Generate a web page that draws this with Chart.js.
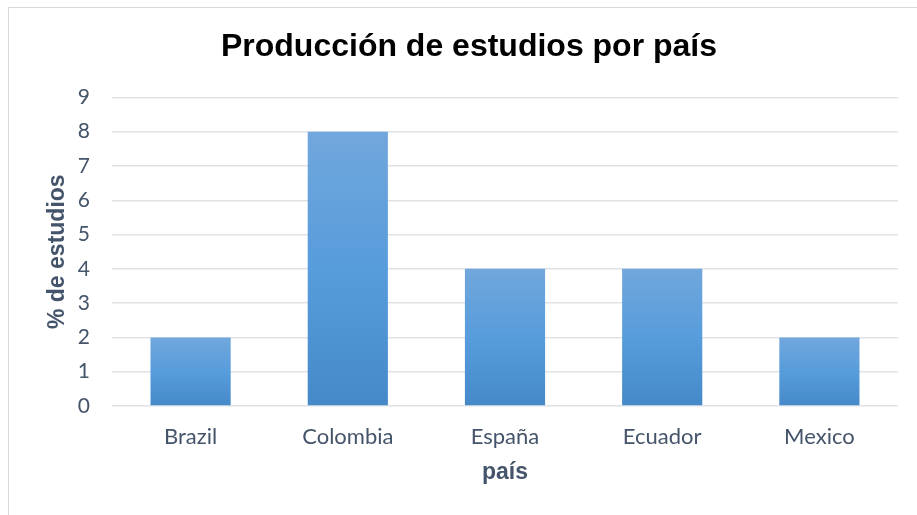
<!DOCTYPE html>
<html>
<head>
<meta charset="utf-8">
<script src="https://cdn.jsdelivr.net/npm/chart.js@4/dist/chart.umd.min.js"></script>
<style>
  html, body { margin: 0; padding: 0; background: #fff; }
  #wrap { position: relative; width: 917px; height: 515px; overflow: hidden; }
  #frame { position: absolute; left: 8px; top: 7px; width: 1000px; height: 600px; border: 1px solid #d9d9d9; }
  canvas { position: absolute; left: 0; top: 0; }
</style>
</head>
<body>
<div id="wrap">
  <div id="frame"></div>
  <canvas id="chart" width="917" height="515"></canvas>
</div>
<script>
const categories = ['Brazil', 'Colombia', 'España', 'Ecuador', 'Mexico'];
const estudios = [2, 8, 4, 4, 2];
const yTicks = [0, 1, 2, 3, 4, 5, 6, 7, 8, 9];

function barGradient(context) {
    const chart = context.chart;
    const y = chart.scales.y;
    if (!chart.chartArea || !y) {
        return '#5b9bd5';
    }
    const top = y.getPixelForValue(context.raw);
    const base = y.getPixelForValue(0);
    if (!isFinite(top) || !isFinite(base) || top === base) {
        return '#5b9bd5';
    }
    const g = chart.ctx.createLinearGradient(0, top, 0, base);
    g.addColorStop(0, '#71a7dc');
    g.addColorStop(0.5, '#579cdb');
    g.addColorStop(1, '#4589c8');
    return g;
}

const axisColor = '#44546a';

new Chart(document.getElementById('chart'), {
    type: 'bar',
    data: {
        labels: categories,
        datasets: [
            {
                label: '% de estudios',
                data: estudios,
                backgroundColor: barGradient,
                borderWidth: 0,
                categoryPercentage: 1,
                barPercentage: 0.51
            }
        ]
    },
    options: {
        responsive: false,
        animation: false,
        devicePixelRatio: 1,
        layout: {
            padding: { left: 40, right: 19, top: 0, bottom: 29 }
        },
        plugins: {
            legend: {
                display: false
            },
            tooltip: {
                enabled: false
            },
            title: {
                display: true,
                text: 'Producción de estudios por país',
                color: '#000',
                font: { family: 'Liberation Sans', size: 32, weight: 'bold' },
                padding: { top: 28, bottom: 31 }
            }
        },
        scales: {
            x: {
                grid: { display: false },
                border: { display: false },
                ticks: {
                    color: axisColor,
                    font: { family: 'Lato', size: 22 },
                    padding: 10
                },
                title: {
                    display: true,
                    text: 'país',
                    color: axisColor,
                    font: { family: 'Liberation Sans', size: 23, weight: 'bold' },
                    padding: { top: 4, bottom: 0 }
                },
                afterFit: function (scale) {
                    scale.height = 80;
                }
            },
            y: {
                min: 0,
                max: 9,
                afterBuildTicks: function (scale) {
                    scale.ticks = yTicks.map(v => ({ value: v }));
                },
                grid: {
                    color: '#dfe3e8',
                    lineWidth: 1.5,
                    drawTicks: false
                },
                border: { display: false },
                ticks: {
                    color: axisColor,
                    font: { family: 'Lato', size: 21 },
                    padding: 22
                },
                title: {
                    display: true,
                    text: '% de estudios',
                    color: axisColor,
                    font: { family: 'Liberation Sans', size: 23, weight: 'bold' },
                    padding: { top: 4, bottom: 0 }
                },
                afterFit: function (scale) {
                    scale.width = 72;
                }
            }
        }
    }
});
</script>
</body>
</html>
